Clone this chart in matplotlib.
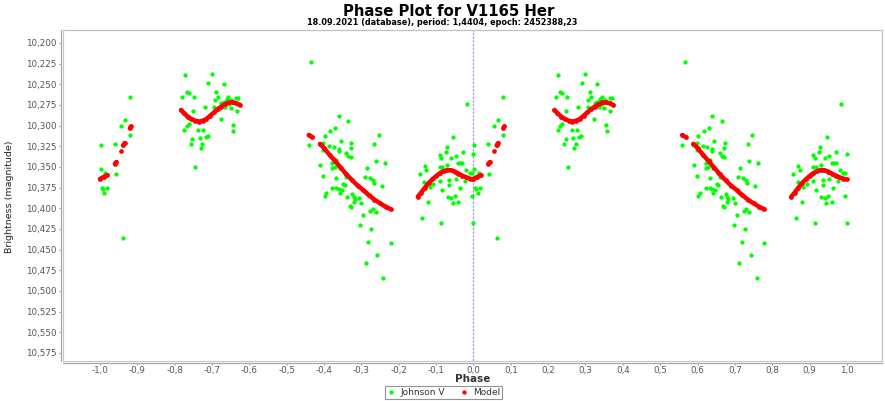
import matplotlib
matplotlib.use('Agg')
import matplotlib.pyplot as plt
from matplotlib.lines import Line2D
from matplotlib.patches import Rectangle
import numpy as np

# Johnson V observations, phase folded onto [0, 1)
johnson_phase = [
    # around phase 0.0 - 0.08
    0.002, 0.002, 0.005, 0.007, 0.012, 0.018, 0.014, 0.040, 0.043, 0.056,
    0.066, 0.080, 0.080, 0.062,
    # around phase 0.22 - 0.37
    0.227, 0.300, 0.290, 0.331, 0.233, 0.238, 0.220, 0.251, 0.312, 0.316,
    0.307, 0.343, 0.339, 0.352, 0.365, 0.370, 0.325, 0.332, 0.345, 0.306,
    0.281, 0.249, 0.336, 0.350, 0.366, 0.234, 0.323, 0.355, 0.232, 0.238,
    0.226, 0.263, 0.276, 0.357, 0.247, 0.267, 0.283, 0.288, 0.243, 0.274,
    0.270, 0.254,
    # around phase 0.56 - 0.78
    0.566, 0.640, 0.665, 0.630, 0.617, 0.746, 0.602, 0.645, 0.673, 0.559,
    0.734, 0.598, 0.614, 0.626, 0.639, 0.672, 0.639, 0.660, 0.598, 0.665,
    0.671, 0.624, 0.633, 0.738, 0.763, 0.590, 0.622, 0.715, 0.629, 0.622,
    0.642, 0.655, 0.598, 0.633, 0.660, 0.709, 0.722, 0.730, 0.651, 0.733,
    0.754, 0.622, 0.633, 0.639, 0.647, 0.655, 0.642, 0.606, 0.602, 0.662,
    0.680, 0.682, 0.676, 0.694, 0.700, 0.680, 0.669, 0.672, 0.731, 0.724,
    0.738, 0.705, 0.697, 0.727, 0.718, 0.778, 0.743, 0.711, 0.758, 0.765,
    0.712,
    # around phase 0.85 - 1.0
    0.946, 0.928, 0.910, 0.926, 0.972, 0.999, 0.914, 0.941, 0.953, 0.959,
    0.965, 0.970, 0.930, 0.870, 0.874, 0.910, 0.917, 0.981, 0.990, 0.856,
    0.908, 0.995, 0.910, 0.935, 0.953, 0.977, 0.868, 0.892, 0.935, 0.963,
    0.883, 0.917, 0.950, 0.932, 0.941, 0.995, 0.959, 0.944, 0.879, 0.863,
    0.914, 0.999, 0.983,
]
johnson_mag = [
    10.324, 10.352, 10.376, 10.377, 10.381, 10.376, 10.357, 10.322, 10.358, 10.300,
    10.293, 10.311, 10.265, 10.436,
    10.239, 10.2375, 10.248, 10.250, 10.259, 10.2605, 10.265, 10.265, 10.259, 10.265,
    10.269, 10.265, 10.268, 10.2686, 10.267, 10.266, 10.273, 10.272, 10.274, 10.277,
    10.278, 10.282, 10.277, 10.279, 10.282, 10.289, 10.292, 10.2996, 10.300, 10.298,
    10.305, 10.305, 10.305, 10.307, 10.316, 10.315, 10.314, 10.313, 10.322, 10.322,
    10.327, 10.350,
    10.2226, 10.288, 10.294, 10.303, 10.306, 10.311, 10.3125, 10.319, 10.321, 10.323,
    10.3225, 10.321, 10.3246, 10.326, 10.328, 10.3274, 10.331, 10.333, 10.329, 10.337,
    10.3375, 10.339, 10.341, 10.3424, 10.3456, 10.3476, 10.3455, 10.3516, 10.3504, 10.3516,
    10.3516, 10.357, 10.361, 10.3637, 10.3617, 10.3617, 10.3637, 10.3657, 10.370, 10.369,
    10.3726, 10.375, 10.375, 10.377, 10.3778, 10.3718, 10.3818, 10.381, 10.385, 10.3867,
    10.386, 10.389, 10.3827, 10.388, 10.394, 10.392, 10.397, 10.3988, 10.401, 10.403,
    10.405, 10.408, 10.420, 10.4254, 10.4404, 10.4415, 10.4565, 10.4665, 10.4846, 10.398,
    10.381,
    10.314, 10.3254, 10.335, 10.332, 10.332, 10.3343, 10.3395, 10.3395, 10.3363, 10.3455,
    10.3448, 10.3455, 10.3476, 10.3484, 10.3536, 10.3496, 10.3504, 10.3536, 10.357, 10.3585,
    10.3585, 10.3577, 10.3666, 10.3657, 10.3649, 10.367, 10.3685, 10.370, 10.372, 10.3758,
    10.3746, 10.3778, 10.385, 10.3867, 10.388, 10.385, 10.392, 10.3932, 10.3927, 10.4113,
    10.4174, 10.418, 10.274,
]

# model evaluated at the observed phases, kept as contiguous pieces
model_phase = [
    [0.000, 0.010, 0.020],
    [0.040, 0.044],
    [0.055],
    [0.062, 0.066],
    [0.080, 0.083],
    [0.217, 0.225, 0.235, 0.245, 0.255, 0.265, 0.275, 0.285, 0.295,
     0.305, 0.315, 0.325, 0.335, 0.345, 0.355, 0.365, 0.375],
    [0.559, 0.569],
    [0.589, 0.600, 0.615, 0.630, 0.645, 0.660, 0.675, 0.690, 0.705,
     0.720, 0.735, 0.750, 0.765, 0.778],
    [0.851, 0.860, 0.870, 0.880, 0.890, 0.900, 0.910, 0.920, 0.930,
     0.940, 0.950, 0.960, 0.970, 0.980, 0.990, 0.999],
]
model_mag = [
    [10.3645, 10.362, 10.360],
    [10.346, 10.344],
    [10.331],
    [10.324, 10.321],
    [10.303, 10.301],
    [10.281, 10.285, 10.289, 10.292, 10.294, 10.295, 10.294, 10.292, 10.288,
     10.284, 10.280, 10.277, 10.274, 10.272, 10.272, 10.273, 10.275],
    [10.3113, 10.314],
    [10.322, 10.327, 10.3355, 10.343, 10.351, 10.359, 10.366, 10.3725, 10.378,
     10.384, 10.3895, 10.394, 10.398, 10.401],
    [10.386, 10.381, 10.375, 10.3695, 10.365, 10.361, 10.3575, 10.355, 10.3537,
     10.354, 10.3555, 10.358, 10.3605, 10.3625, 10.364, 10.365],
]

phase_ticks = [-1.0, -0.9, -0.8, -0.7, -0.6, -0.5, -0.4, -0.3, -0.2, -0.1, 0.0,
               0.1, 0.2, 0.3, 0.4, 0.5, 0.6, 0.7, 0.8, 0.9, 1.0]
mag_ticks = [10.200, 10.225, 10.250, 10.275, 10.300, 10.325, 10.350, 10.375,
             10.400, 10.425, 10.450, 10.475, 10.500, 10.525, 10.550, 10.575]

GREEN = '#00ff00'
RED = '#ff0000'
GREY = '#555555'

W, H = 885, 401
fig = plt.figure(figsize=(W / 100, H / 100), dpi=100)
ax = fig.add_axes([63 / W, 1 - 361 / H, (882 - 63) / W, (361 - 30) / H])

jp = np.array(johnson_phase)
jm = np.array(johnson_mag)

# each cycle is drawn twice: phase and phase - 1
for shift in (-1.0, 0.0):
    ax.plot(jp + shift, jm, ls='none', marker='o', ms=3.1, color=GREEN,
            mec='none', zorder=2)
    for p, m in zip(model_phase, model_mag):
        ax.plot(np.array(p) + shift, m, '-', marker='o', ms=3.4, lw=3.2,
                color=RED, mec='none', solid_capstyle='round', zorder=3)

ax.axvline(0.0, color='#9c9cf4', lw=0.9, ls=(0, (2, 1)), zorder=1)

ax.set_xlim(-1.099, 1.094)
ax.set_ylim(10.5847, 10.1843)

ax.set_xticks(phase_ticks)
ax.set_xticklabels([f'{v:.1f}'.replace('.', ',') for v in phase_ticks])
ax.set_yticks(mag_ticks)
ax.set_yticklabels([f'{v:.3f}'.replace('.', ',') for v in mag_ticks])
ax.tick_params(axis='both', direction='out', length=1.2, width=0.6,
               color='#909090', labelcolor=GREY, labelsize=6.3)
ax.tick_params(axis='x', pad=0.6)
ax.tick_params(axis='y', pad=2.0)

for side in ('top', 'right'):
    ax.spines[side].set_color('#c0c0c0')
    ax.spines[side].set_linewidth(0.8)
for side in ('left', 'bottom'):
    ax.spines[side].set_position(('outward', 1.6))
    ax.spines[side].set_color('#a8a8a8')
    ax.spines[side].set_linewidth(0.9)
ax.add_patch(Rectangle((0, 0), 1, 1, transform=ax.transAxes, fill=False,
                       edgecolor='#c8c8c8', lw=0.8, clip_on=False, zorder=0))

fig.text(0.507, 1 - 11.5 / H, 'Phase Plot for V1165 Her', ha='center',
         va='center', fontsize=10.7, fontweight='bold')
fig.text(0.5, 1 - 22.3 / H,
         '18.09.2021 (database), period: 1,4404, epoch: 2452388,23',
         ha='center', va='center', fontsize=5.9, fontweight='bold')
fig.text(10 / W, 1 - 197 / H, 'Brightness (magnitude)', rotation=90,
         ha='center', va='center', fontsize=6.8, color='#222222',
         family=['Liberation Sans Narrow', 'DejaVu Sans'])
fig.text(473 / W, 1 - 379.5 / H, 'Phase', ha='center', va='center',
         fontsize=7.5, fontweight='bold', color='#333333')

handles = [
    Line2D([], [], ls='none', marker='o', ms=3.1, color=GREEN, mec='none',
           label='Johnson V'),
    Line2D([], [], ls='none', marker='o', ms=3.1, color=RED, mec='none',
           label='Model'),
]
leg = fig.legend(handles=handles, loc='center',
                 bbox_to_anchor=(443.5 / W, 1 - 392.5 / H), ncol=2,
                 fontsize=6.5, frameon=True, fancybox=False,
                 edgecolor='#7a7a7a', borderpad=0.25, handlelength=1.0,
                 handletextpad=0.5, columnspacing=1.6, borderaxespad=0)
leg.get_frame().set_linewidth(0.8)
for t in leg.get_texts():
    t.set_color('#333333')

fig.savefig('out.png', dpi=100)
